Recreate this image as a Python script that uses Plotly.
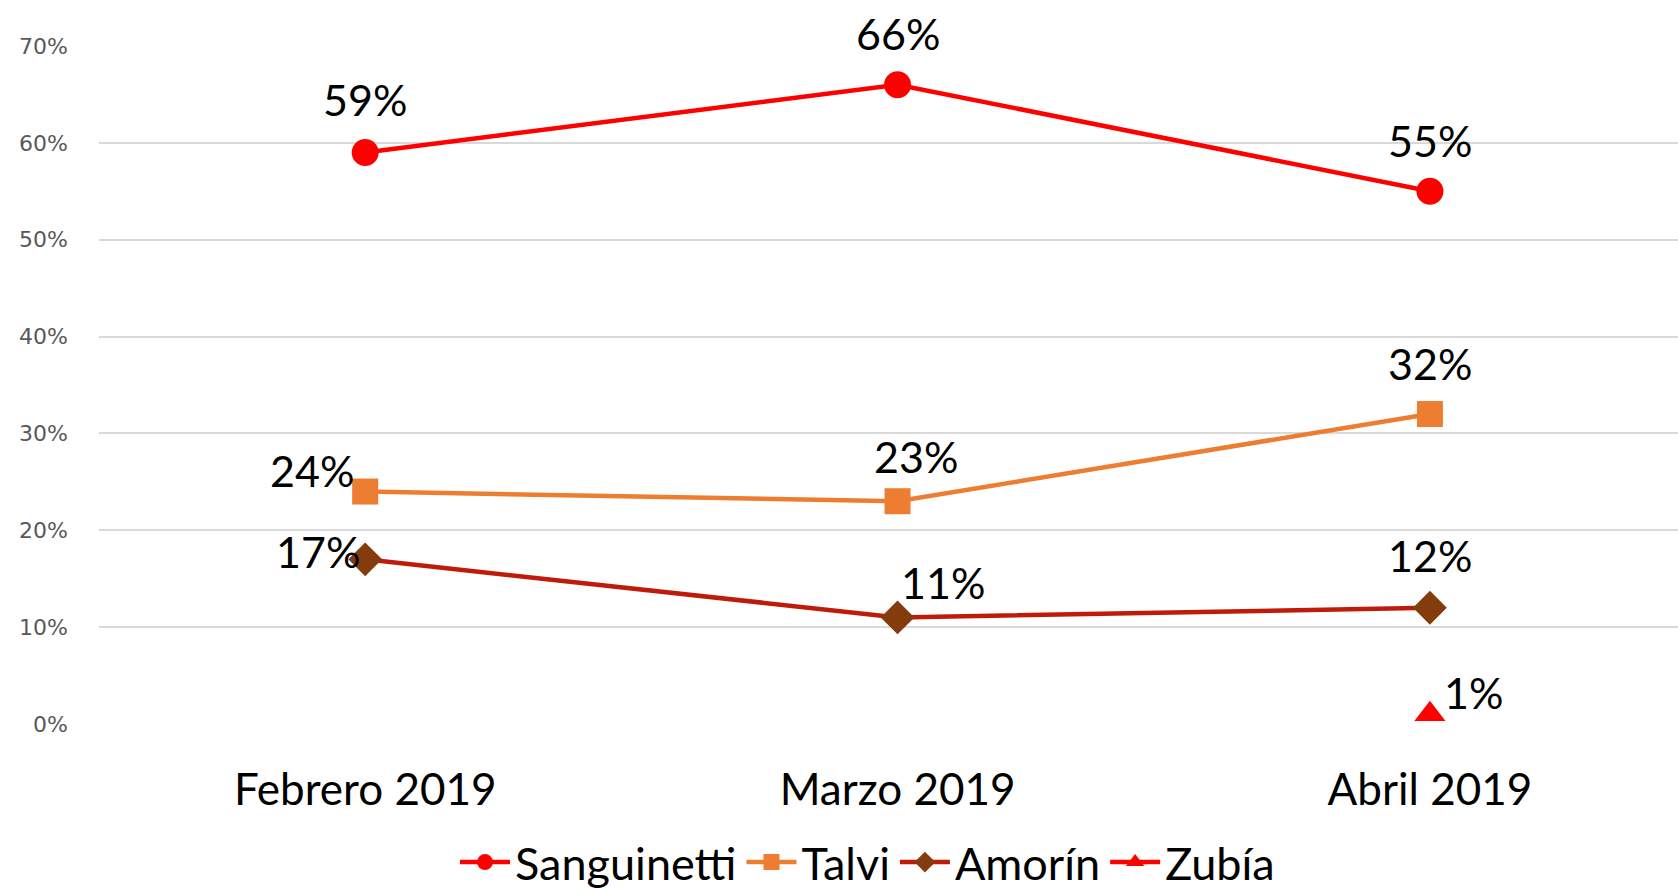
import plotly.graph_objects as go

months = ["Febrero 2019", "Marzo 2019", "Abril 2019"]
sanguinetti = [0.59, 0.66, 0.55]
talvi = [0.24, 0.23, 0.32]
amorin = [0.17, 0.11, 0.12]
zubia_months = ["Abril 2019"]
zubia = [0.01]
y_ticks = [0, 0.1, 0.2, 0.3, 0.4, 0.5, 0.6, 0.7]

series = [
    ("Sanguinetti", months, sanguinetti, "#FF0000", "#FF0000", "circle", 27,
     [(0, 53), (0, 51), (0, 51)]),
    ("Talvi", months, talvi, "#ED7D31", "#ED7D31", "square", 26,
     [(-53, 21), (18, 45), (0, 51)]),
    ("Amorín", months, amorin, "#BF1B0B", "#843C0C", "diamond", 26,
     [(-47, 8), (45, 35), (0, 52)]),
    ("Zubía", zubia_months, zubia, "#FF0000", "#FF0000", "triangle-up", 27,
     [(44, 22)]),
]

fig = go.Figure()
annotations = []
for name, xs, ys, lc, mc, sym, ms, offs in series:
    fig.add_trace(go.Scatter(
        x=xs, y=ys, name=name, mode="lines+markers",
        line=dict(color=lc, width=4.5),
        marker=dict(symbol=sym, size=ms, color=mc, line=dict(width=0)),
        cliponaxis=False,
    ))
    for xv, yv, (dx, dy) in zip(xs, ys, offs):
        annotations.append(dict(
            x=xv, y=yv, xref="x", yref="y", text=f"{round(yv*100)}%",
            showarrow=False, xshift=dx, yshift=dy,
            font=dict(family="Lato", size=43, color="#000000"),
        ))

fig.update_layout(
    width=1678, height=889,
    margin=dict(l=99, r=0, t=45, b=164.5),
    paper_bgcolor="white", plot_bgcolor="white",
    annotations=annotations,
    showlegend=True,
    legend=dict(
        orientation="h", xref="container", yref="container",
        x=0.517, y=0.03, xanchor="center", yanchor="middle",
        font=dict(family="Lato", size=45, color="#000000"),
        itemwidth=50, tracegroupgap=0,
    ),
    xaxis=dict(
        type="category", categoryorder="array", categoryarray=months,
        range=[-0.5, 2.466], showgrid=False, showline=False, zeroline=False,
        ticks="", ticklabelstandoff=36,
        tickfont=dict(family="Lato", size=44, color="#000000"),
    ),
    yaxis=dict(
        range=[0, 0.701], tickvals=y_ticks, tickformat=".0%",
        showgrid=True, gridcolor="#D9D9D9", gridwidth=1.5,
        zeroline=False, showline=False, ticks="", ticklabelstandoff=30,
        tickfont=dict(family="DejaVu Sans", size=22, color="#595959"),
    ),
)

fig.write_html(
    "out.html",
    config={"displayModeBar": False},
    post_script="document.body.style.margin='0';document.body.style.overflow='hidden';",
)
